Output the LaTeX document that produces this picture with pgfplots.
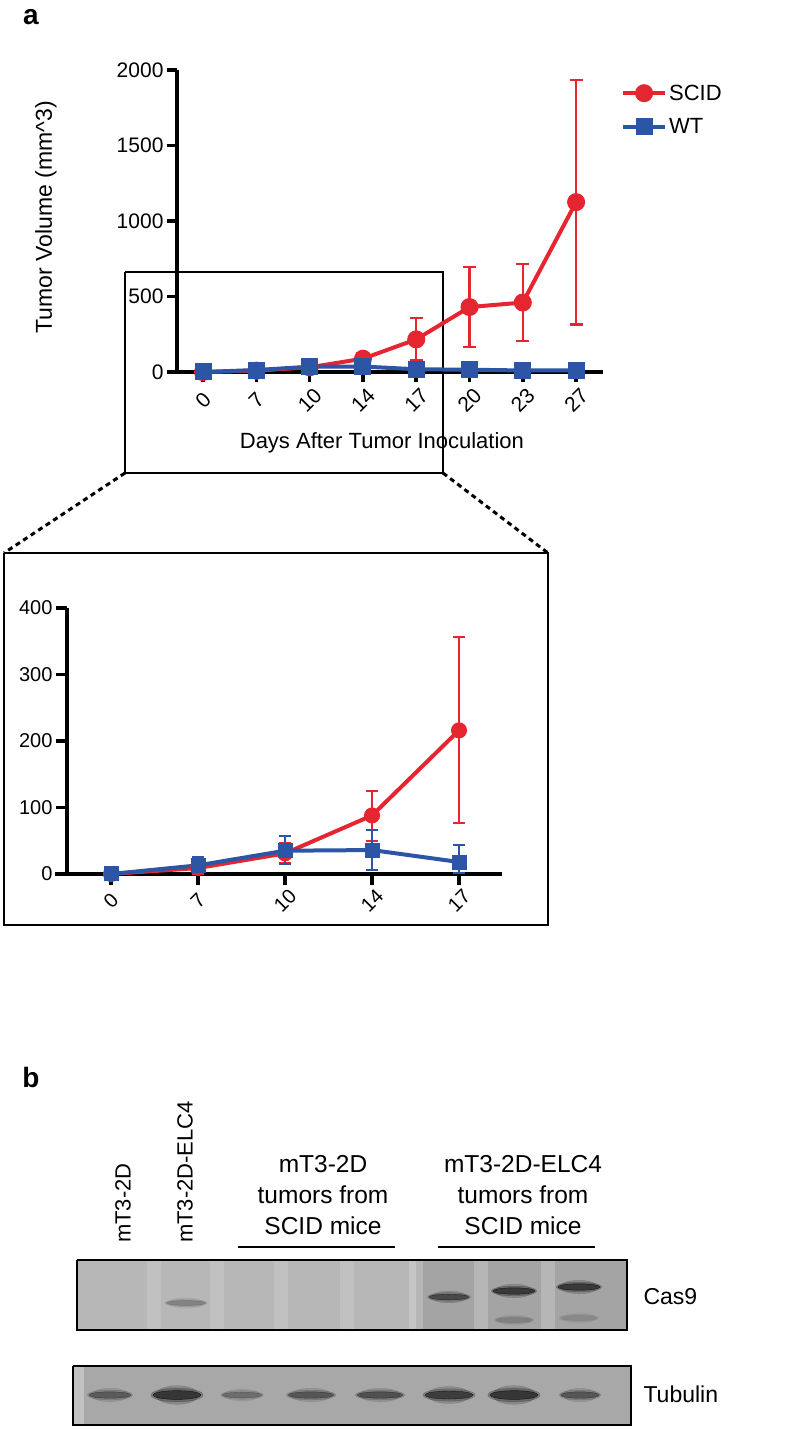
\documentclass[border=0pt]{standalone}
\usepackage{pgfplots}
\pgfplotsset{compat=1.18}
\usepackage{pgfplotstable}
\usepackage{fontspec}
\setmainfont{Liberation Sans}
\setsansfont{Liberation Sans}
\definecolor{scid}{HTML}{E52530}
\definecolor{wt}{HTML}{2D55A5}
\definecolor{blotA}{HTML}{B7B7B7}
\definecolor{blotB}{HTML}{A4A4A4}
\definecolor{blotT}{HTML}{A8A8A8}
\newcommand{\fs}[2]{\fontsize{#1}{#2}\selectfont}
% band: x, y, radius(pt), xscale, core opacity, halo opacity
\newcommand{\band}[6]{%
 \addplot[only marks, mark=*, mark size=#3pt, mark options={draw=none, fill=black, xscale=#4*0.78, yscale=1.7, opacity=#6*0.7}] coordinates {(#1,#2)};
 \addplot[only marks, mark=*, mark size=#3pt, mark options={draw=none, fill=black, xscale=#4*0.95, yscale=1.25, opacity=#6}] coordinates {(#1,#2)};
 \addplot[only marks, mark=*, mark size=#3pt, mark options={draw=none, fill=black!85, xscale=#4*0.88, yscale=0.8, opacity=#5}] coordinates {(#1,#2)};
}

\pgfplotstableread{
idx day y ep em
0 0 0 1 1
1 7 9 14 9
2 10 31 15 15
3 14 88 37 38
4 17 216 140 140
5 20 430 263 263
6 23 460 255 255
7 27 1125 810 810
}\scid
\pgfplotstableread{
idx day y ep em
0 0 0 1 1
1 7 13 13 11
2 10 35 22 20
3 14 36 30 30
4 17 18 26 17
5 20 15 10 10
6 23 10 8 8
7 27 10 8 8
}\wt

\begin{document}
\begin{tikzpicture}
\useasboundingbox (0pt,0pt) rectangle (800pt,1429pt);

% ---------- overlay (pixel coordinates) ----------
\begin{axis}[at={(0pt,0pt)}, anchor=south west, scale only axis,
  width=800pt, height=1429pt, xmin=0, xmax=800, ymin=0, ymax=1429,
  y dir=reverse, hide axis, clip=false]
 \node[font=\bfseries\fs{28}{30}] at (axis cs:31,17) {a};
 \node[font=\bfseries\fs{28}{30}] at (axis cs:31,1077) {b};
 % zoom rectangle and inset frame
 \addplot[black, line width=2pt, line join=miter] coordinates {(125,272)(443,272)(443,473)(125,473)(125,272)};
 \addplot[black, line width=3pt, dash pattern=on 5pt off 4pt] coordinates {(125,473)(4,553)};
 \addplot[black, line width=3pt, dash pattern=on 5pt off 4pt] coordinates {(443,473)(548,553)};
 \addplot[black, line width=2pt, line join=miter] coordinates {(4,553)(548,553)(548,925)(4,925)(4,553)};
 % panel b labels
 \node[rotate=90, anchor=west, inner sep=0pt, font=\fs{22}{26}] at (axis cs:123,1243) {mT3-2D};
 \node[rotate=90, anchor=west, inner sep=0pt, font=\fs{22}{26}] at (axis cs:185,1243) {mT3-2D-ELC4};
 \node[align=center, font=\fs{24.5}{31}] at (axis cs:323,1195) {mT3-2D\\tumors from\\SCID mice};
 \node[align=center, font=\fs{24.5}{31}] at (axis cs:523,1195) {mT3-2D-ELC4\\tumors from\\SCID mice};
 \addplot[black, line width=2pt] coordinates {(238,1247)(395,1247)};
 \addplot[black, line width=2pt] coordinates {(438,1247)(595,1247)};
 \node[anchor=west, font=\fs{23}{26}] at (axis cs:640,1297) {Cas9};
 \node[anchor=west, font=\fs{23}{26}] at (axis cs:640,1394) {Tubulin};
 % Cas9 blot
 \addplot[fill=blotA, draw=none] coordinates {(77,1260)(627,1260)(627,1330)(77,1330)};
 \addplot[fill=blotB, draw=none] coordinates {(416,1260)(627,1260)(627,1330)(416,1330)};
 \addplot[fill=white, fill opacity=0.14, draw=none] coordinates {(147,1260)(161,1260)(161,1330)(147,1330)};
 \addplot[fill=white, fill opacity=0.14, draw=none] coordinates {(210,1260)(224,1260)(224,1330)(210,1330)};
 \addplot[fill=white, fill opacity=0.14, draw=none] coordinates {(274,1260)(288,1260)(288,1330)(274,1330)};
 \addplot[fill=white, fill opacity=0.14, draw=none] coordinates {(340,1260)(354,1260)(354,1330)(340,1330)};
 \addplot[fill=white, fill opacity=0.2, draw=none] coordinates {(409,1260)(423,1260)(423,1330)(409,1330)};
 \addplot[fill=white, fill opacity=0.2, draw=none] coordinates {(474,1260)(488,1260)(488,1330)(474,1330)};
 \addplot[fill=white, fill opacity=0.2, draw=none] coordinates {(541,1260)(555,1260)(555,1330)(541,1330)};
 \band{186}{1303}{3}{7.5}{0.22}{0.08}
 \band{449}{1297}{3.5}{6.5}{0.55}{0.18}
 \band{514}{1291}{4}{6}{0.72}{0.22}
 \band{579}{1287}{4}{6}{0.72}{0.22}
 \band{514}{1320}{3}{7}{0.15}{0.06}
 \band{579}{1318}{3}{7}{0.1}{0.05}
 \addplot[black, line width=2.2pt, line join=miter] coordinates {(77,1260)(627,1260)(627,1330)(77,1330)(77,1260)};
 % Tubulin blot
 \addplot[fill=blotT, draw=none] coordinates {(73,1366)(631,1366)(631,1425)(73,1425)};
 \addplot[fill=white, fill opacity=0.3, draw=none] coordinates {(73,1366)(84,1366)(84,1425)(73,1425)};
 \band{110}{1395}{4}{6}{0.42}{0.14}
 \band{177}{1395}{5.5}{5}{0.75}{0.24}
 \band{242}{1395}{3.5}{6.5}{0.3}{0.1}
 \band{311}{1395}{4}{6.5}{0.45}{0.15}
 \band{380}{1395}{4}{6.5}{0.5}{0.16}
 \band{449}{1395}{5}{5.5}{0.68}{0.22}
 \band{514}{1395}{5.5}{5}{0.75}{0.24}
 \band{580}{1395}{4}{5.5}{0.45}{0.15}
 \addplot[black, line width=2.2pt, line join=miter] coordinates {(73,1366)(631,1366)(631,1425)(73,1425)(73,1366)};
\end{axis}

% ---------- main chart ----------
\begin{axis}[at={(177pt,1057pt)}, anchor=south west, scale only axis,
  width=426pt, height=302pt,
  xmin=-0.49, xmax=7.505, ymin=0, ymax=2000,
  axis lines=left, axis line style={-, line width=4.5pt},
  xtick={0,...,7}, xticklabels={0,7,10,14,17,20,23,27},
  ytick={0,500,1000,1500,2000},
  tick align=outside, major tick length=10pt,
  tick style={line width=3.5pt, black},
  /pgf/number format/assume math mode=true,
  scaled y ticks=false, yticklabel style={/pgf/number format/1000 sep={}, font=\fs{21}{24}},
  xticklabel style={rotate=45, anchor=center, font=\fs{21}{24}},
  xticklabel shift=18pt,
  clip=false,
  xlabel={Days After Tumor Inoculation}, ylabel={Tumor Volume (mm\textasciicircum3)},
  every axis x label/.style={at={(axis description cs:0.481,-0.235)}, anchor=center, font=\fs{22}{26}},
  every axis y label/.style={at={(axis description cs:-0.3075,0.513)}, rotate=90, anchor=center, font=\fs{23}{26}},
  legend style={draw=none, fill=none, at={(axis description cs:1.035,0.965)}, anchor=north west,
    font=\fs{22}{26}, row sep=13pt},
  legend cell align=left,
  legend image code/.code={\draw[mark repeat=2, mark phase=2] plot coordinates {(0pt,0pt)(21pt,0pt)(42pt,0pt)};},
]
 \draw[line width=4.5pt] (axis cs:-0.49,0) -- ++(-9pt,0pt);
 \addplot[scid, line width=4pt, mark=*, mark size=7pt,
   error bars/.cd, y dir=both, y explicit,
   error bar style={scid, line width=2.2pt},
   error mark options={scid, rotate=90, mark size=6.5pt, line width=2.2pt}]
   table[x=idx, y=y, y error plus=ep, y error minus=em] {\scid};
 \addlegendentry{SCID}
 \addplot[wt, line width=4pt, mark=square*, mark size=6.5pt,
   error bars/.cd, y dir=both, y explicit,
   error bar style={wt, line width=2.2pt},
   error mark options={wt, rotate=90, mark size=6.5pt, line width=2.2pt}]
   table[x=idx, y=y, y error plus=ep, y error minus=em] {\wt};
 \addlegendentry{WT}
\end{axis}

% ---------- inset chart ----------
\begin{axis}[at={(67pt,555pt)}, anchor=south west, scale only axis,
  width=435pt, height=266pt,
  xmin=-0.506, xmax=4.494, ymin=0, ymax=400,
  axis lines=left, axis line style={-, line width=4.5pt},
  xtick={0,...,4}, xticklabels={0,7,10,14,17},
  ytick={0,100,200,300,400},
  tick align=outside, major tick length=11pt,
  tick style={line width=3.5pt, black},
  /pgf/number format/assume math mode=true,
  yticklabel style={font=\fs{20}{22}},
  xticklabel style={rotate=45, anchor=center, font=\fs{20}{22}},
  xticklabel shift=16pt,
  clip=false,
]
 \draw[line width=4.5pt] (axis cs:-0.506,0) -- ++(-12pt,0pt);
 \addplot[scid, line width=4pt, mark=*, mark size=6pt,
   restrict x to domain=-0.5:4.5,
   error bars/.cd, y dir=both, y explicit,
   error bar style={scid, line width=2pt},
   error mark options={scid, rotate=90, mark size=6pt, line width=2pt}]
   table[x=idx, y=y, y error plus=ep, y error minus=em] {\scid};
 \addplot[wt, line width=4pt, mark=square*, mark size=5.5pt,
   restrict x to domain=-0.5:4.5,
   error bars/.cd, y dir=both, y explicit,
   error bar style={wt, line width=2pt},
   error mark options={wt, rotate=90, mark size=6pt, line width=2pt}]
   table[x=idx, y=y, y error plus=ep, y error minus=em] {\wt};
\end{axis}
\end{tikzpicture}
\end{document}
